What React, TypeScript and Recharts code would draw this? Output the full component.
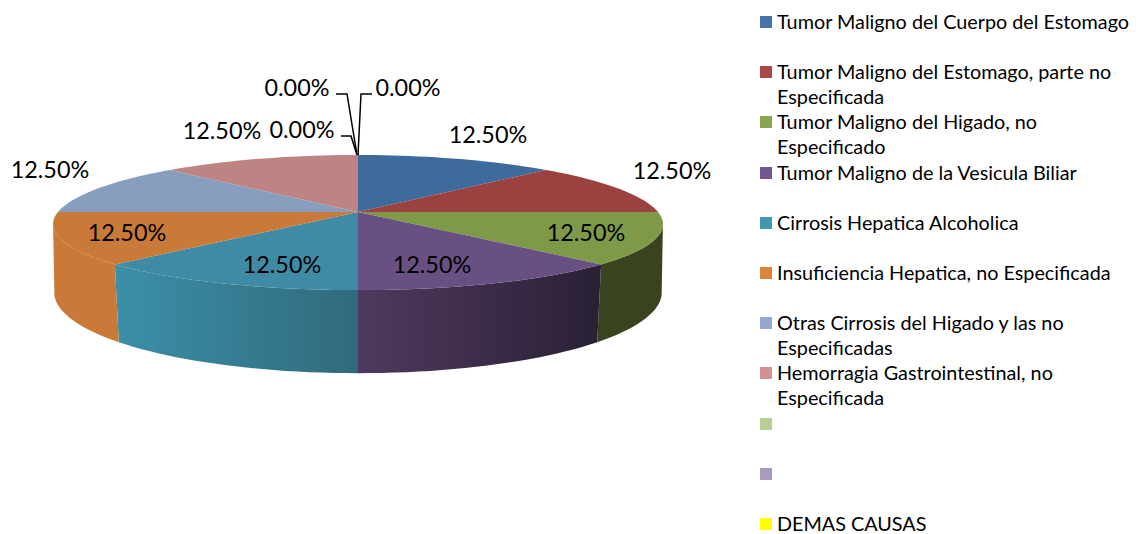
import React from 'react';
import { PieChart, Pie, Legend } from 'recharts';

const categories = [
    'Tumor Maligno del Cuerpo del Estomago',
    'Tumor Maligno del Estomago, parte no Especificada',
    'Tumor Maligno del Higado, no Especificado',
    'Tumor Maligno de la Vesicula Biliar',
    'Cirrosis Hepatica Alcoholica',
    'Insuficiencia Hepatica, no Especificada',
    'Otras Cirrosis del Higado y las no Especificadas',
    'Hemorragia Gastrointestinal, no Especificada',
    '',
    '',
    'DEMAS CAUSAS',
];
const shares = [12.5, 12.5, 12.5, 12.5, 12.5, 12.5, 12.5, 12.5, 0, 0, 0];
const faceColors = ['#3f6a9c', '#9b4140', '#7e9a48', '#695082', '#3f8ba5', '#c97a38', '#879ebf', '#be8483', '#b9cd96', '#a99bbd', '#ffff00'];
const legendColors = ['#4672a8', '#aa4643', '#89a54e', '#71588f', '#4198af', '#db843d', '#93a9cf', '#d19392', '#b9cd96', '#a99bbd', '#ffff00'];
const wallFills = ['none', 'none', '#3a431f', 'url(#wallPurple)', 'url(#wallTeal)', '#c97a38', 'none', 'none', 'none', 'none', 'none'];

const data = categories.map((name, i) => ({ name, value: shares[i], fill: faceColors[i] }));

// where Excel put each data label (text centre), plus leader lines for the 0% ones
const labelSpots = [[488, 134], [672, 170], [586, 232], [432, 264], [282, 264], [127, 232], [50, 169], [222, 130], [302, 129], [297, 87], [408, 87]];
const leaderLines: Record<number, string> = {
    8: '341,136 351,136 357,155',
    9: '336,94 347,94 357,155',
    10: '372,94 361,94 358,155',
};

const FONT = 'Lato, Carlito, sans-serif';
const CX = 358;
const CY = 212;
const PERSPECTIVE_X = 0.18;
const PERSPECTIVE_X_BOTTOM = 0.16;
const PERSPECTIVE_Y = 0.156;
const RY_TOP = 65.9;
const RY_BOTTOM = 79.5;
const BOTTOM_OFFSET = 67;

// recharts angle -> tilted disc, near side bigger than the far side
const rim = (angle: number, r: number, bottom: boolean) => {
    const rad = (angle * Math.PI) / 180;
    const u = Math.cos(rad);
    const v = -Math.sin(rad);
    const kx = bottom ? PERSPECTIVE_X_BOTTOM : PERSPECTIVE_X;
    const ry = bottom ? RY_BOTTOM : RY_TOP;
    return [CX + (r * u) / (1 - kx * v), CY + (bottom ? BOTTOM_OFFSET : 0) + (ry * v) / (1 - PERSPECTIVE_Y * v)];
};

const sampleAngles = (from: number, to: number) => {
    const steps = Math.max(2, Math.ceil(Math.abs(to - from) / 2));
    return Array.from({ length: steps + 1 }, (_, i) => from + ((to - from) * i) / steps);
};

const pts = (list: number[][]) => list.map((p) => `${p[0].toFixed(1)},${p[1].toFixed(1)}`).join(' L');

const Slice3D = (props: any) => {
    const { startAngle, endAngle, outerRadius, fill, index } = props;
    if (Math.abs(endAngle - startAngle) < 0.01) return null;
    const angles = sampleAngles(startAngle, endAngle);
    const top = angles.map((a) => rim(a, outerRadius, false));
    const wallFill = wallFills[index];
    // wall only runs between the widest points of the two rims, so the silhouette stays straight
    const wallAngles = angles.filter((a) => -Math.sin((a * Math.PI) / 180) >= PERSPECTIVE_X);
    const wallTop = wallAngles.map((a) => rim(a, outerRadius, false));
    const wallBottom = [...wallAngles].reverse().map((a) => rim(a, outerRadius, true));
    return (
        <g>
            {wallFill !== 'none' && <path d={`M${pts(wallTop)} L${pts(wallBottom)} Z`} fill={wallFill} stroke="none" />}
            <path d={`M${CX},${CY} L${pts(top)} Z`} fill={fill} stroke="none" />
        </g>
    );
};

const renderLabel = (props: any) => {
    const { index, percent } = props;
    const [x, y] = labelSpots[index];
    return (
        <g key={index}>
            {leaderLines[index] && <polyline points={leaderLines[index]} fill="none" stroke="#000" strokeWidth={1.5} />}
            <text x={x} y={y} textAnchor="middle" dominantBaseline="central" fontFamily={FONT} fontSize={23.4} fill="#000">
                {`${(percent * 100).toFixed(2)}%`}
            </text>
        </g>
    );
};

const renderLegend = () => (
    <div style={{ position: 'relative', width: 1141, height: 534, fontFamily: FONT, fontSize: 19.8, lineHeight: '25px', color: '#000' }}>
        {categories.map((name, i) => (
            <div key={i} style={{ position: 'absolute', left: 760, top: 16 + i * 50.2, width: 375 }}>
                <span style={{ position: 'absolute', left: 0, top: 0, width: 12, height: 12, background: legendColors[i] }} />
                <div style={{ position: 'absolute', left: 17, top: -7, width: 358 }}>{name}</div>
            </div>
        ))}
    </div>
);

export default function App() {
    return (
        <div style={{ position: 'absolute', left: 0, top: 0, width: 1141, height: 534, background: '#fff' }}>
            <PieChart width={1141} height={534} margin={{ top: 0, right: 0, bottom: 0, left: 0 }}>
                <defs>
                    <linearGradient id="wallPurple" gradientUnits="userSpaceOnUse" x1={358} y1={0} x2={597} y2={0}>
                        <stop offset="0%" stopColor="#50395f" />
                        <stop offset="100%" stopColor="#2a2135" />
                    </linearGradient>
                    <linearGradient id="wallTeal" gradientUnits="userSpaceOnUse" x1={118} y1={0} x2={358} y2={0}>
                        <stop offset="0%" stopColor="#3b8fa8" />
                        <stop offset="100%" stopColor="#316a7c" />
                    </linearGradient>
                </defs>
                <Pie
                    data={data}
                    dataKey="value"
                    nameKey="name"
                    cx={CX}
                    cy={CY}
                    outerRadius={300}
                    startAngle={90}
                    endAngle={-270}
                    stroke="none"
                    shape={Slice3D}
                    label={renderLabel}
                    labelLine={false}
                    isAnimationActive={false}
                />
                <Legend content={renderLegend} wrapperStyle={{ left: 0, top: 0, width: 1141, height: 534, bottom: 'auto' }} />
            </PieChart>
        </div>
    );
}
